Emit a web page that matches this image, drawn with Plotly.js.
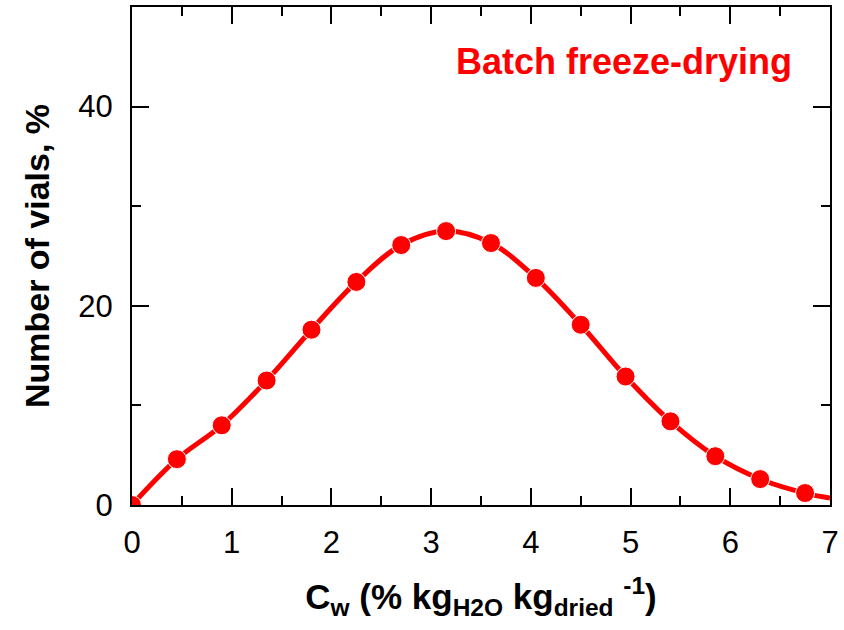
<!DOCTYPE html>
<html>
<head>
<meta charset="utf-8">
<script src="https://cdn.plot.ly/plotly-3.0.1.min.js"></script>
<style>html,body{margin:0;padding:0;background:#fff}#chart{width:844px;height:630px}</style>
</head>
<body>
<div id="chart"></div>
<script>
// Measured points
const cw = [0, 0.45, 0.9, 1.35, 1.8, 2.25, 2.7, 3.15, 3.6, 4.05, 4.5, 4.95, 5.4, 5.85, 6.3, 6.75];
const vials = [0, 4.6, 8.0, 12.5, 17.6, 22.4, 26.1, 27.5, 26.3, 22.8, 18.1, 12.9, 8.4, 4.9, 2.6, 1.2];
// Fitted curve continues to the right edge
const curveX = cw.concat([7.0]);
const curveY = vials.concat([0.7]);
const xTicks = [0, 1, 2, 3, 4, 5, 6, 7];
const yTicks = [0, 20, 40];

const red = '#ff0000';
const font = 'Liberation Sans, Arial, sans-serif';

const traces = [
  {x: curveX, y: curveY, mode: 'lines', line: {color: red, width: 5, shape: 'spline', smoothing: 1}, hoverinfo: 'skip', showlegend: false},
  {x: cw, y: vials, mode: 'markers', marker: {color: red, size: 19, line: {color: '#ffffff', width: 1}}, showlegend: false}
];

const axisCommon = {
  showline: true, linecolor: '#000', linewidth: 2, mirror: 'ticks',
  ticks: 'inside', ticklen: 17, tickwidth: 2, tickcolor: '#000',
  showgrid: false, zeroline: false,
  tickfont: {family: font, size: 31, color: '#000'}
};

const layout = {
  width: 844, height: 630,
  margin: {l: 132, r: 14, t: 7, b: 125},
  paper_bgcolor: '#fff', plot_bgcolor: '#fff',
  xaxis: Object.assign({}, axisCommon, {
    range: [0, 7], tickvals: xTicks, ticktext: xTicks.map(String),
    ticklabelstandoff: 9,
    minor: {dtick: 0.5, ticks: 'inside', ticklen: 9, tickwidth: 2, tickcolor: '#000'},
    title: {text: 'C<sub>w</sub> (% kg<sub>H2O</sub> kg<sub>dried</sub> <sup>-1</sup>)', font: {family: font, size: 35, color: '#000', weight: 'bold'}, standoff: 25}
  }),
  yaxis: Object.assign({}, axisCommon, {
    range: [0, 50], tickvals: yTicks, ticktext: yTicks.map(String),
    ticklabelstandoff: 11,
    minor: {dtick: 10, ticks: 'inside', ticklen: 9, tickwidth: 2, tickcolor: '#000'},
    title: {text: 'Number of vials, %', font: {family: font, size: 34, color: '#000', weight: 'bold'}, standoff: 18}
  }),
  annotations: [{
    text: 'Batch freeze-drying', xref: 'paper', yref: 'paper', x: 0.948, y: 0.89,
    xanchor: 'right', yanchor: 'middle', showarrow: false,
    font: {family: font, size: 36, color: red, weight: 'bold'}
  }]
};

Plotly.newPlot('chart', traces, layout, {displayModeBar: false, staticPlot: true});
</script>
</body>
</html>
